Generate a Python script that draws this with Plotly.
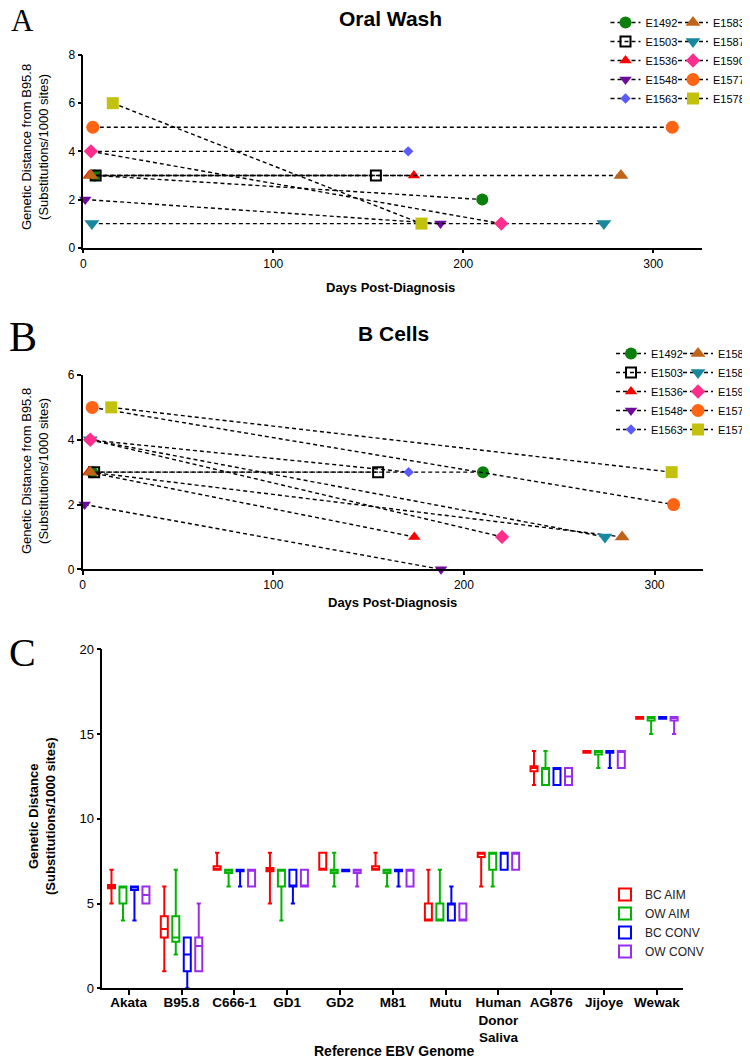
import plotly.graph_objects as go

# the page body adds an 8px margin, so the figure is sized to fill the rest of the window
OFF = 8
W, H = 750 - OFF, 1059 - OFF

SAMPLES = ["E1492", "E1503", "E1536", "E1548", "E1563",
           "E1583", "E1587", "E1590", "E1577", "E1578"]

# oral wash: [first, second] day and distance per sample
OW_DAYS = [[6, 210], [6.5, 154], [3, 174], [1, 188], [4, 171],
           [4, 283], [4.5, 274], [4, 220], [5, 310], [15.5, 178]]
OW_DIST = [[3, 2], [3, 3], [3, 3], [2, 1], [4, 4],
           [3, 3], [1, 1], [4, 1], [5, 5], [6, 1]]

# B cells
BC_DAYS = [[5, 210], [6, 155], [3, 174], [1, 188], [3, 171],
           [4, 283], [4, 274], [4, 220], [5, 310], [15, 309]]
BC_DIST = [[3, 3], [3, 3], [3, 1], [2, 0], [4, 3],
           [3, 1], [4, 1], [4, 1], [5, 2], [5, 3]]

GENOMES = ["Akata", "B95.8", "C666-1", "GD1", "GD2", "M81", "Mutu",
           "Human<br>Donor<br>Saliva", "AG876", "Jijoye", "Wewak"]
GROUPS = ["BC AIM", "OW AIM", "BC CONV", "OW CONV"]

LOW = [
    [5, 1, 7, 5, 7, 7, 4, 6, 12, 13.9, 15.9],
    [4, 2, 6, 4, 6, 6, 4, 6, 12, 13, 15],
    [4, 0, 6, 5, 6.9, 6, 4, 7, 12, 13, 15.9],
    [5, 1, 6, 6, 6, 6, 4, 7, 12, 13, 15],
]
Q1 = [
    [5.9, 3, 7, 6.9, 7, 7, 4, 7.75, 12.8, 13.9, 15.9],
    [5, 2.75, 6.8, 6, 6.8, 6.8, 4, 7, 12, 13.8, 15.8],
    [5.8, 1, 6.9, 6, 6.9, 6.9, 4, 7, 12, 13.9, 15.9],
    [5, 1, 6, 6, 6.8, 6, 4, 7, 12, 13, 15.8],
]
MED = [
    [6, 3.5, 7, 7, 7, 7, 4, 8, 13, 14, 16],
    [6, 3, 7, 7, 7, 7, 4, 8, 13, 14, 16],
    [6, 2, 7, 6, 7, 7, 5, 8, 13, 14, 16],
    [5.5, 2.5, 7, 6, 7, 7, 4, 8, 12.5, 14, 16],
]
Q3 = [
    [6.1, 4.25, 7.2, 7.1, 8, 7.2, 5, 8, 13.1, 14, 16],
    [6, 4.25, 7, 7, 7, 7, 5, 8, 13, 14, 16],
    [6, 3, 7, 7, 7, 7, 5, 8, 13, 14, 16],
    [6, 3, 7, 7, 7, 7, 5, 8, 13, 14, 16],
]
HIGH = [
    [7, 6, 8, 8, 8, 8, 7, 8, 14, 14, 16],
    [6, 7, 7, 7, 8, 7, 7, 8, 14, 14, 16],
    [6, 3, 7, 7, 7, 7, 6, 8, 13, 14, 16],
    [6, 5, 7, 7, 7, 7, 5, 8, 13, 14, 16],
]

COLORS = ["#0b7f0b", "black", "#ff0000", "#6e0a9c", "#5a5aff",
          "#c0641a", "#17889e", "#ff2d8c", "#ff6414", "#c2c20e"]
SYMBOLS = ["circle", "square-open", "triangle-up", "triangle-down", "diamond",
           "triangle-up", "triangle-down", "diamond", "circle", "square"]
SIZES = [12, 10, 11, 11, 8, 13, 13, 11, 13, 12]
BOX_COLORS = ["#ff0000", "#00b400", "#0000ff", "#9a2cf0"]

FONT = "Arial, Liberation Sans, sans-serif"


# positions below are given as window pixels, converted to paper fractions
def px_x(p):
    return (p - OFF) / W


def px_y(p):
    return 1 - (p - OFF) / H


fig = go.Figure()

panels = [("x", "y", OW_DAYS, OW_DIST, "legend", "legend2"),
          ("x2", "y2", BC_DAYS, BC_DIST, "legend3", "legend4")]
for xa, ya, days, dist, leg1, leg2 in panels:
    for i, name in enumerate(SAMPLES):
        mline = dict(width=2, color=COLORS[i]) if SYMBOLS[i] == "square-open" else dict(width=0)
        fig.add_trace(go.Scatter(
            x=days[i], y=dist[i], mode="lines+markers", name=name,
            xaxis=xa, yaxis=ya, legend=leg1 if i < 5 else leg2,
            line=dict(color="black", width=1.4, dash="4px,3px"),
            marker=dict(symbol=SYMBOLS[i], size=SIZES[i], color=COLORS[i], line=mline),
            cliponaxis=False, showlegend=True,
        ))

for g, name in enumerate(GROUPS):
    fig.add_trace(go.Box(
        x=GENOMES, q1=Q1[g], median=MED[g], q3=Q3[g],
        lowerfence=LOW[g], upperfence=HIGH[g], name=name,
        xaxis="x3", yaxis="y3", legend="legend5",
        line=dict(color=BOX_COLORS[g], width=2), fillcolor="white",
        whiskerwidth=0.6, boxpoints=False,
    ))

axis_common = dict(showline=True, linecolor="black", linewidth=1.5, ticks="outside",
                   ticklen=4, tickwidth=1.5, tickcolor="black", showgrid=False,
                   zeroline=False, tickfont=dict(family=FONT, size=12, color="black"))

fig.update_layout(
    width=W, height=H, margin=dict(l=0, r=0, t=0, b=0, autoexpand=False),
    paper_bgcolor="white", plot_bgcolor="white",
    font=dict(family=FONT, color="black"),
    boxmode="group", boxgap=0.13, boxgroupgap=0.39,
    xaxis=dict(domain=[px_x(83.3), px_x(701.7)], range=[0, 325.5], tickvals=[0, 100, 200, 300],
               anchor="y", **axis_common),
    yaxis=dict(domain=[px_y(247.7), px_y(55)], range=[0, 8], dtick=2, anchor="x", **axis_common),
    xaxis2=dict(domain=[px_x(82.7), px_x(703.3)], range=[0, 325.6], tickvals=[0, 100, 200, 300],
                anchor="y2", **axis_common),
    yaxis2=dict(domain=[px_y(569.3), px_y(375)], range=[0, 6], dtick=2, anchor="x2", **axis_common),
    xaxis3=dict(domain=[px_x(102.3), px_x(683.3)], anchor="y3", range=[-0.5, 10.5],
                **{**axis_common, "tickfont": dict(family=FONT, size=13.5, color="black", weight="bold"),
                   "ticklen": 5, "ticklabelstandoff": -4}),
    yaxis3=dict(domain=[px_y(988.3), px_y(649.3)], range=[0, 20], dtick=5, anchor="x3",
                **{**axis_common, "tickfont": dict(family=FONT, size=13, color="black")}),
)

leg_font = dict(family=FONT, size=11, color="black")
leg_base = dict(xanchor="left", yanchor="top", bgcolor="rgba(0,0,0,0)", font=leg_font,
                itemwidth=30, tracegroupgap=0, orientation="v")
fig.update_layout(
    legend=dict(x=px_x(605.5), y=px_y(8), **leg_base),
    legend2=dict(x=px_x(673), y=px_y(8), **leg_base),
    legend3=dict(x=px_x(611), y=px_y(339), **leg_base),
    legend4=dict(x=px_x(678), y=px_y(339), **leg_base),
    legend5=dict(x=px_x(605), y=px_y(880), **{**leg_base, "font": dict(family=FONT, size=12, color="#222")}),
)

notes = [
    ("A", 22, 21, 31), ("B", 23, 337, 42), ("C", 23, 652.5, 40),
]
for txt, x, y, size in notes:
    fig.add_annotation(text=txt, x=px_x(x), y=px_y(y), xref="paper", yref="paper",
                       xanchor="center", yanchor="middle", showarrow=False,
                       font=dict(family="Liberation Serif, Times New Roman, serif",
                                 size=size, color="black"))

titles = [
    ("<b>Oral Wash</b>", 391, 19, 21), ("<b>B Cells</b>", 393, 333, 21),
    ("<b>Days Post-Diagnosis</b>", 391, 287, 13), ("<b>Days Post-Diagnosis</b>", 392, 602, 13),
    ("<b>Reference EBV Genome</b>", 394, 1051, 14),
]
for txt, x, y, size in titles:
    fig.add_annotation(text=txt, x=px_x(x), y=px_y(y), xref="paper", yref="paper",
                       xanchor="center", yanchor="middle", showarrow=False,
                       font=dict(family=FONT, size=size, color="black"))

ytitles = [
    ("Genetic Distance from B95.8<br>(Substitutions/1000 sites)", 35, 147),
    ("Genetic Distance from B95.8<br>(Substitutions/1000 sites)", 35, 471),
    ("<b>Genetic Distance<br>(Substitutions/1000 sites)</b>", 42, 817),
]
for txt, x, y in ytitles:
    fig.add_annotation(text=txt, x=px_x(x), y=px_y(y), xref="paper", yref="paper",
                       xanchor="center", yanchor="middle", showarrow=False, textangle=-90,
                       font=dict(family=FONT, size=13, color="black"))

fig.write_html("out.html")
